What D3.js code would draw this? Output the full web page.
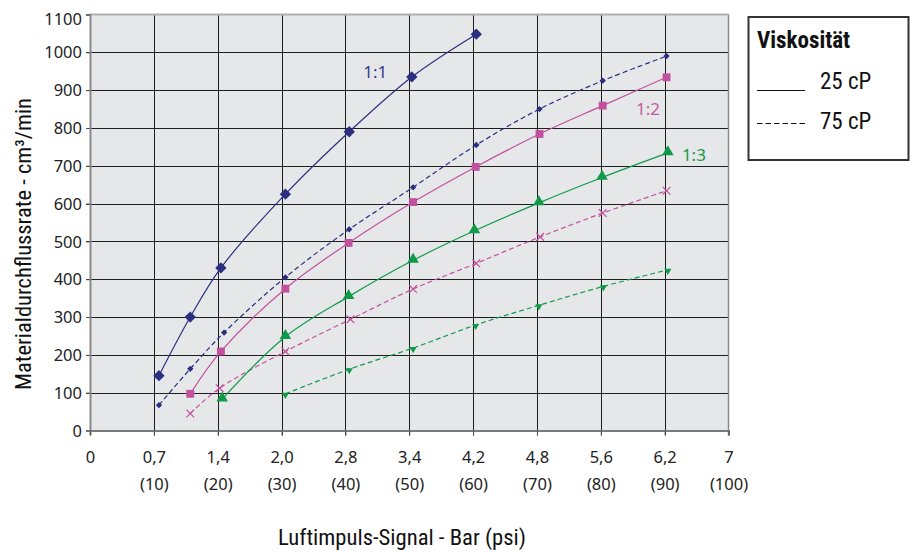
<!DOCTYPE html>
<html>
<head>
<meta charset="utf-8">
<script src="https://cdn.jsdelivr.net/npm/d3@7"></script>
<style>
  body { margin: 0; background: #fff; }
  svg { display: block; }
</style>
</head>
<body>
<script>
// axis labels (x is drawn on a psi scale, 0..100)
const psiTicks = [0, 10, 20, 30, 40, 50, 60, 70, 80, 90, 100];
const barLabels = ["0", "0,7", "1,4", "2,0", "2,8", "3,4", "4,2", "4,8", "5,6", "6,2", "7"];
const psiLabels = ["", "(10)", "(20)", "(30)", "(40)", "(50)", "(60)", "(70)", "(80)", "(90)", "(100)"];
const yTicks = [0, 100, 200, 300, 400, 500, 600, 700, 800, 900, 1000, 1100];

// 1:1 mix ratio
const x11_25 = [10.8, 15.7, 20.5, 30.6, 40.6, 50.4, 60.5];
const y11_25 = [145, 300, 430, 625, 790, 935, 1048];
const x11_75 = [10.8, 15.7, 21.0, 30.6, 40.6, 50.6, 60.5, 70.4, 80.3, 90.3];
const y11_75 = [67, 163, 259, 405, 532, 643, 755, 850, 925, 990];
// 1:2
const x12_25 = [15.7, 20.5, 30.6, 40.5, 50.6, 60.4, 70.4, 80.3, 90.3];
const y12_25 = [97, 209, 375, 496, 604, 697, 784, 859, 934];
const x12_75 = [15.7, 20.3, 30.6, 40.8, 50.6, 60.5, 70.5, 80.3, 90.3];
const y12_75 = [45, 112, 209, 294, 374, 442, 512, 575, 634];
// 1:3
const x13_25 = [20.7, 30.6, 40.5, 50.6, 60.2, 70.3, 80.2, 90.5];
const y13_25 = [83, 248, 354, 450, 528, 602, 669, 734];
const x13_75 = [30.6, 40.6, 50.6, 60.4, 70.3, 80.4, 90.5];
const y13_75 = [97, 162, 218, 279, 331, 381, 425];

const ratioLabels = ["1:1", "1:2", "1:3"];
const legendTitle = "Viskosität";
const legendLabels = ["25 cP", "75 cP"];

const W = 915, H = 552;
const pLeft = 90, pRight = 728.5, pTop = 14.5, pBottom = 430.5;

const navy = "#2b2f7f", pink = "#c2509e", green = "#0f9a4a";
const condensed = "'Liberation Sans Narrow', 'Roboto Condensed', Roboto, sans-serif";
const tickFont = "'Noto Sans', 'Open Sans', sans-serif";

const x = d3.scaleLinear().domain([0, 100]).range([pLeft, pRight]);
const y = d3.scaleLinear().domain([0, 1100]).range([pBottom, pTop]);

const svg = d3.select("body").append("svg")
  .attr("width", W)
  .attr("height", H);

// plot background
svg.append("rect")
  .attr("x", pLeft).attr("y", pTop)
  .attr("width", pRight - pLeft).attr("height", pBottom - pTop)
  .attr("fill", "#e6e7e9");

// grid
const grid = svg.append("g").attr("stroke", "#1d1d1d").attr("stroke-width", 1);
grid.selectAll(".hg")
  .data(yTicks.filter(d => d > 0 && d < 1100))
  .enter().append("line")
  .attr("x1", pLeft - 4).attr("x2", pRight)
  .attr("y1", d => Math.round(y(d)) + 0.5).attr("y2", d => Math.round(y(d)) + 0.5);
grid.selectAll(".vg")
  .data(psiTicks.filter(d => d > 0 && d < 100))
  .enter().append("line")
  .attr("x1", d => Math.round(x(d)) + 0.5).attr("x2", d => Math.round(x(d)) + 0.5)
  .attr("y1", pTop).attr("y2", pBottom + 5);

// frame
svg.append("line").attr("x1", pLeft).attr("x2", pRight).attr("y1", pTop).attr("y2", pTop)
  .attr("stroke", "#b0b0b0").attr("stroke-width", 2);
svg.append("line").attr("x1", pRight).attr("x2", pRight).attr("y1", pTop).attr("y2", pBottom + 5)
  .attr("stroke", "#8a8a8a").attr("stroke-width", 1.5);

// y axis
const yAxis = d3.axisLeft(y).tickValues(yTicks).tickSize(4).tickPadding(4)
  .tickFormat(d3.format("d"));
const gy = svg.append("g")
  .attr("transform", "translate(" + pLeft + ",0)")
  .call(yAxis);
gy.select(".domain").attr("stroke", "#8a8a8a").attr("stroke-width", 2);
gy.selectAll(".tick line").attr("stroke", "#555");
gy.selectAll(".tick text")
  .attr("fill", "#222")
  .style("font-family", tickFont)
  .style("font-size", "16.5px")
  .attr("dy", d => d === 1100 ? "0.6em" : "0.34em");

// x axis, bar row
const xAxis = d3.axisBottom(x).tickValues(psiTicks).tickSize(5).tickPadding(16)
  .tickFormat((d, i) => barLabels[i]);
const gx = svg.append("g")
  .attr("transform", "translate(0," + pBottom + ")")
  .call(xAxis);
gx.select(".domain").attr("stroke", "#7a7a7a").attr("stroke-width", 2);
gx.selectAll(".tick line").attr("stroke", "#555");
gx.selectAll(".tick text")
  .attr("fill", "#222")
  .style("font-family", tickFont)
  .style("font-size", "16.5px");

// x axis, psi row
const xAxis2 = d3.axisBottom(x).tickValues(psiTicks).tickSize(0).tickPadding(48)
  .tickFormat((d, i) => psiLabels[i]);
const gx2 = svg.append("g")
  .attr("transform", "translate(0," + pBottom + ")")
  .call(xAxis2);
gx2.select(".domain").remove();
gx2.selectAll(".tick text")
  .attr("fill", "#222")
  .style("font-family", tickFont)
  .style("font-size", "16.5px");

// axis titles
svg.append("text")
  .attr("transform", "translate(31,244) rotate(-90)")
  .attr("text-anchor", "middle")
  .style("font-family", condensed)
  .style("font-size", "22px")
  .attr("textLength", 292)
  .attr("lengthAdjust", "spacingAndGlyphs")
  .attr("fill", "#111")
  .text("Materialdurchflussrate - cm³/min");

svg.append("text")
  .attr("x", 402)
  .attr("y", 545)
  .attr("text-anchor", "middle")
  .style("font-family", condensed)
  .style("font-size", "22px")
  .attr("textLength", 248)
  .attr("lengthAdjust", "spacingAndGlyphs")
  .attr("fill", "#111")
  .text("Luftimpuls-Signal - Bar (psi)");

// series
const series = [
  { xs: x11_25, ys: y11_25, color: navy, dash: null, mark: "diamond" },
  { xs: x11_75, ys: y11_75, color: navy, dash: "5,3", mark: "smalldiamond" },
  { xs: x12_25, ys: y12_25, color: pink, dash: null, mark: "square" },
  { xs: x12_75, ys: y12_75, color: pink, dash: "5,3", mark: "cross" },
  { xs: x13_25, ys: y13_25, color: green, dash: null, mark: "triangle" },
  { xs: x13_75, ys: y13_75, color: green, dash: "5,3", mark: "down" }
];

const line = d3.line()
  .x(d => x(d[0]))
  .y(d => y(d[1]))
  .curve(d3.curveCatmullRom.alpha(0.5));

series.forEach(s => {
  const pts = s.xs.map((v, i) => [v, s.ys[i]]);
  svg.append("path")
    .datum(pts)
    .attr("d", line)
    .attr("fill", "none")
    .attr("stroke", s.color)
    .attr("stroke-width", 1.2)
    .attr("stroke-dasharray", s.dash);

  const g = svg.append("g");
  const m = g.selectAll("path.m").data(pts).enter().append("path")
    .attr("class", "m");
  if (s.mark === "diamond") {
    m.attr("d", d3.symbol(d3.symbolSquare, 64))
      .attr("transform", d => "translate(" + x(d[0]) + "," + y(d[1]) + ") rotate(45)")
      .attr("fill", s.color);
  } else if (s.mark === "smalldiamond") {
    m.attr("d", d3.symbol(d3.symbolSquare, 20))
      .attr("transform", d => "translate(" + x(d[0]) + "," + y(d[1]) + ") rotate(45)")
      .attr("fill", s.color);
  } else if (s.mark === "square") {
    m.attr("d", d3.symbol(d3.symbolSquare, 62))
      .attr("transform", d => "translate(" + x(d[0]) + "," + y(d[1]) + ")")
      .attr("fill", s.color);
  } else if (s.mark === "triangle") {
    m.attr("d", d3.symbol(d3.symbolTriangle, 58))
      .attr("transform", d => "translate(" + x(d[0]) + "," + (y(d[1]) - 1) + ")")
      .attr("fill", s.color);
  } else if (s.mark === "down") {
    m.attr("d", d3.symbol(d3.symbolTriangle, 22))
      .attr("transform", d => "translate(" + x(d[0]) + "," + (y(d[1]) + 1) + ") rotate(180)")
      .attr("fill", s.color);
  } else if (s.mark === "cross") {
    m.attr("d", d3.symbol(d3.symbolTimes, 40))
      .attr("transform", d => "translate(" + x(d[0]) + "," + y(d[1]) + ")")
      .attr("fill", "none")
      .attr("stroke", s.color)
      .attr("stroke-width", 1.2);
  }
});

// ratio labels
const labelPos = [[42.8, 933], [85.5, 833], [92.7, 713]];
const labelColors = ["#3a3c88", "#c45aa2", "#17994b"];
svg.selectAll("text.ratio")
  .data(ratioLabels)
  .enter().append("text")
  .attr("class", "ratio")
  .attr("x", (d, i) => x(labelPos[i][0]))
  .attr("y", (d, i) => y(labelPos[i][1]))
  .attr("fill", (d, i) => labelColors[i])
  .style("font-family", tickFont)
  .style("font-size", "17px")
  .text(d => d);

// legend
const lg = svg.append("g");
lg.append("rect")
  .attr("x", 748.5).attr("y", 17)
  .attr("width", 160).attr("height", 143)
  .attr("fill", "#fff")
  .attr("stroke", "#333")
  .attr("stroke-width", 2);
lg.append("text")
  .attr("x", 757).attr("y", 48)
  .style("font-family", condensed)
  .style("font-size", "23px")
  .style("font-weight", "bold")
  .attr("fill", "#111")
  .text(legendTitle);
lg.selectAll("line.key")
  .data(legendLabels)
  .enter().append("line")
  .attr("x1", 757).attr("x2", 805)
  .attr("y1", (d, i) => 90.5 + i * 33).attr("y2", (d, i) => 90.5 + i * 33)
  .attr("stroke", "#111")
  .attr("stroke-width", 1.2)
  .attr("stroke-dasharray", (d, i) => i ? "5.5,3" : null);
lg.selectAll("text.key")
  .data(legendLabels)
  .enter().append("text")
  .attr("x", 820)
  .attr("y", (d, i) => 89 + i * 40)
  .style("font-family", condensed)
  .style("font-size", "23px")
  .attr("fill", "#111")
  .text(d => d);
</script>
</body>
</html>
